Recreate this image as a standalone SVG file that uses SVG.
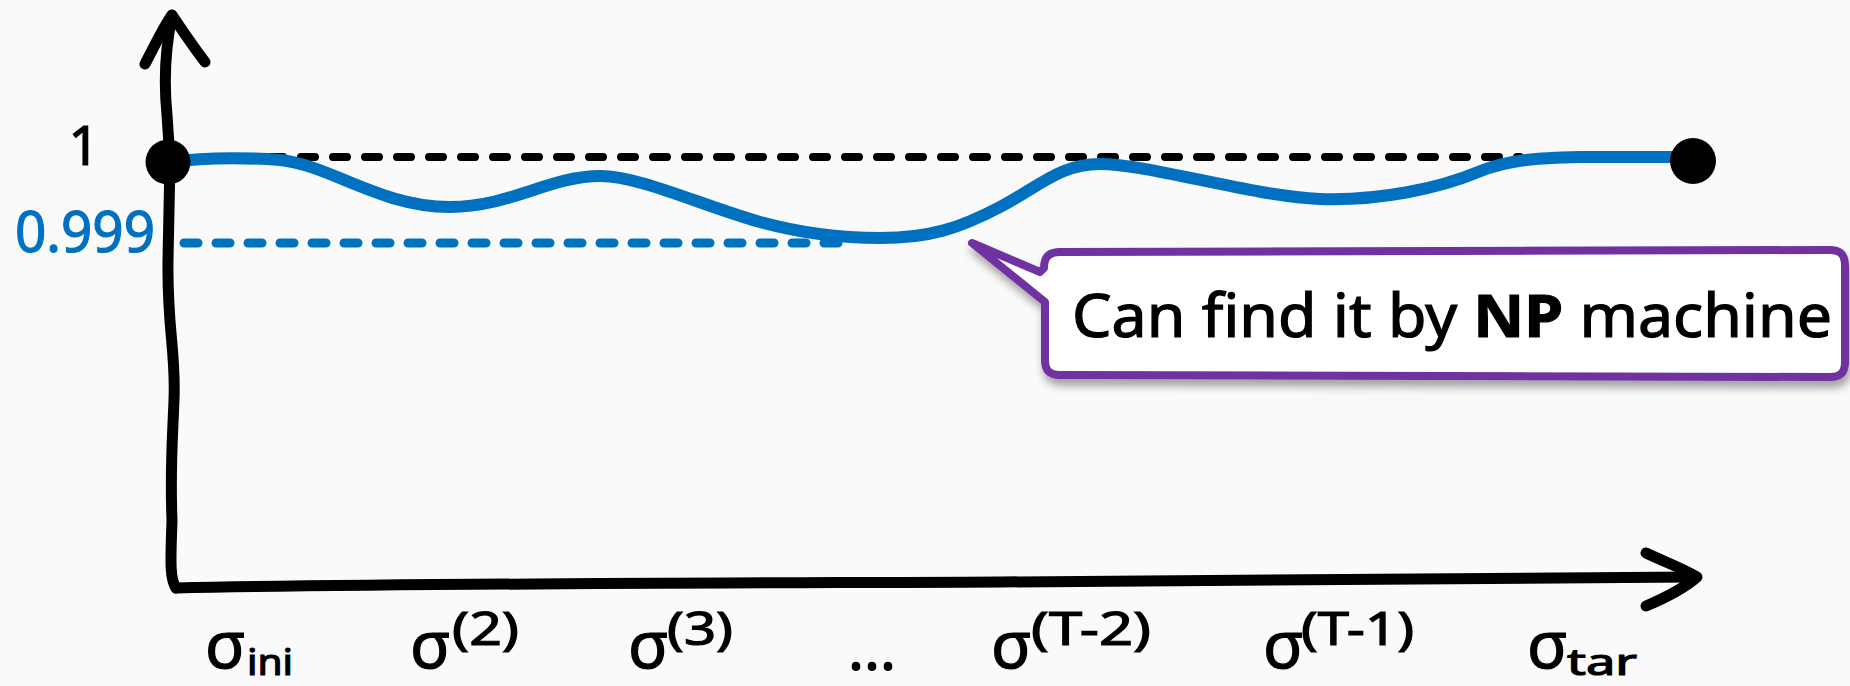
<svg xmlns="http://www.w3.org/2000/svg" width="1850" height="686" viewBox="0 0 1850 686">
  <defs>
    <filter id="shadow" x="-5%" y="-20%" width="110%" height="150%">
      <feDropShadow dx="2" dy="7" stdDeviation="4" flood-color="#000" flood-opacity="0.35"/>
    </filter>
  </defs>
  <style>
    .axis { fill: none; stroke: #000; stroke-width: 11; stroke-linecap: round; stroke-linejoin: round; }
    .dash-black { fill: none; stroke: #000; stroke-width: 8; stroke-linecap: round; stroke-dasharray: 14 18; }
    .dash-blue { fill: none; stroke: #0070C0; stroke-width: 9; stroke-linecap: round; stroke-dasharray: 14 18; }
    .curve { fill: none; stroke: #0070C0; stroke-width: 12; stroke-linecap: round; stroke-linejoin: round; }
    .lbl { font-family: "Noto Sans", "DejaVu Sans", sans-serif; fill: #000; stroke: #000; stroke-width: 1.2; }
    .blue { fill: #0070C0; stroke: #0070C0; }
    .sig { font-size: 66px; }
    .sup { font-size: 46px; }
    .sub { font-size: 36px; }
  </style>
  <rect width="1850" height="686" fill="#FAFAFA"/>

  <g id="reference-lines">
    <line class="dash-black" x1="205" y1="157" x2="1520" y2="157"/>
    <line class="dash-blue" x1="184" y1="243" x2="840" y2="243"/>
  </g>

  <g id="axes">
    <path class="axis" d="M172,16 C166,45 163,75 167,115 L170,160 L168,260 C167,330 176,350 174,400 C172,450 170,470 172,520 C171,555 169,578 176,588"/>
    <path class="axis" d="M145,64 C155,45 163,28 172,15 C182,30 192,45 205,62"/>
    <path class="axis" d="M176,588 C400,583 800,583 1000,582 L1694,577"/>
    <path class="axis" d="M1646,553 C1665,562 1682,568 1697,577 C1682,590 1665,598 1646,606"/>
  </g>

  <g id="curve">
    <path class="curve" d="M168,162 C200,158 240,157 280,160 C330,165 380,207 450,207 C510,207 550,176 600,176 C640,176 700,205 760,222 C800,233 840,238 880,238 C930,238 960,228 1000,207 C1040,186 1060,164 1100,164 C1150,164 1250,196 1320,199 C1380,201 1440,188 1478,172 C1510,159 1540,158 1580,157 L1693,157"/>
    <circle cx="168" cy="162" r="22.5" fill="#000"/>
    <circle cx="1693" cy="161" r="23" fill="#000"/>
  </g>

  <g id="y-labels">
    <text class="lbl" x="84" y="165" font-size="54" text-anchor="middle">1</text>
    <text class="lbl blue" x="15" y="252" font-size="57" textLength="140" lengthAdjust="spacingAndGlyphs">0.999</text>
  </g>

  <g id="callout">
    <path filter="url(#shadow)" d="M972,243 L1040,272 L1044,268 C1044,258 1048,252 1060,252 C1300,249 1560,253 1830,250 C1841,250 1845,255 1845,266 L1845,362 C1845,372 1841,377 1830,377 C1560,375 1300,378 1060,375 C1049,375 1045,370 1045,360 L1045,302 Z" fill="#FFFFFF" stroke="#7030A0" stroke-width="8" stroke-linejoin="round"/>
    <text class="lbl" x="1072" y="337" font-size="60" textLength="760" lengthAdjust="spacingAndGlyphs">Can find it by <tspan font-weight="bold">NP</tspan> machine</text>
  </g>

  <g id="x-labels">
    <text class="lbl sig" x="205" y="668">σ</text>
    <text class="lbl sub" x="247" y="675" textLength="46" lengthAdjust="spacingAndGlyphs">ini</text>

    <text class="lbl sig" x="410" y="668">σ</text>
    <text class="lbl sup" x="452" y="645" textLength="67" lengthAdjust="spacingAndGlyphs">(2)</text>

    <text class="lbl sig" x="628" y="668">σ</text>
    <text class="lbl sup" x="667" y="645" textLength="66" lengthAdjust="spacingAndGlyphs">(3)</text>

    <text class="lbl" x="848" y="670" font-size="60" textLength="48" lengthAdjust="spacingAndGlyphs">...</text>

    <text class="lbl sig" x="991" y="668">σ</text>
    <text class="lbl sup" x="1031" y="645" textLength="120" lengthAdjust="spacingAndGlyphs">(T-2)</text>

    <text class="lbl sig" x="1263" y="668">σ</text>
    <text class="lbl sup" x="1301" y="645" textLength="113" lengthAdjust="spacingAndGlyphs">(T-1)</text>

    <text class="lbl sig" x="1527" y="668">σ</text>
    <text class="lbl sub" x="1567" y="675" textLength="70" lengthAdjust="spacingAndGlyphs">tar</text>
  </g>
</svg>
